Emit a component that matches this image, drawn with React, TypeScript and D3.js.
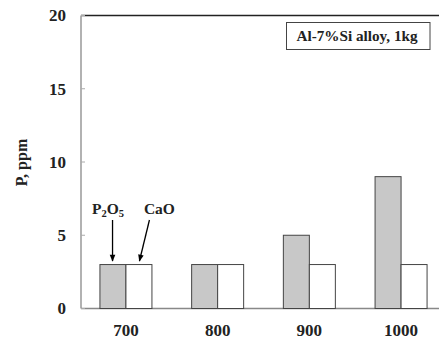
import React from "react";
import * as d3 from "d3";

const categories = ["700", "800", "900", "1000"];
const p2o5Values = [3, 3, 5, 9];
const caoValues = [3, 3, 3, 3];
const yTicks = [0, 5, 10, 15, 20];
const legendText = "Al-7%Si alloy, 1kg";
const yLabel = "P, ppm";

export default function App() {
  const W = 439, H = 340;
  const left = 81, top = 15.5, bottom = 308.5, right = 446;
  const x = d3.scaleBand<string>().domain(categories).range([left, right]).paddingInner(0.43).paddingOuter(0.205);
  const y = d3.scaleLinear().domain([0, 20]).range([bottom, top]);
  const bw = 26;
  const font = "'Liberation Serif', 'Times New Roman', serif";
  const center = (c: string) => (x(c) as number) + x.bandwidth() / 2;
  const c0 = center(categories[0]);
  return (
    <svg width={W} height={H} style={{ position: "absolute", left: 0, top: 0 }} fontFamily={font}>
      <defs>
        <marker id="ah" viewBox="0 0 10 10" refX="9" refY="5" markerWidth="10" markerHeight="7" orient="auto" markerUnits="userSpaceOnUse">
          <path d="M0,1 L10,5 L0,9 Z" fill="#000" />
        </marker>
      </defs>
      <rect width={W} height={H} fill="#fff" />
      <line x1={left} x2={W} y1={y(20)} y2={y(20)} stroke="#222" strokeWidth={1.3} />
      <line x1={left} x2={left} y1={y(20)} y2={bottom} stroke="#999" strokeWidth={1.5} />
      <line x1={left} x2={W} y1={bottom} y2={bottom} stroke="#888" strokeWidth={1.5} />
      {yTicks.map((t) => (
        <g key={t}>
          <line x1={left} x2={left + 4} y1={y(t)} y2={y(t)} stroke="#aaa" strokeWidth={1} />
          <text x={66} y={y(t)} dy="0.35em" textAnchor="end" fontSize={17} fontWeight="bold" fill="#222">{t}</text>
        </g>
      ))}
      {categories.map((c, i) => {
        const cx = center(c);
        return (
          <g key={c}>
            <rect x={cx - bw} y={y(p2o5Values[i])} width={bw} height={bottom - y(p2o5Values[i])} fill="#c8c8c8" stroke="#444" strokeWidth={1} />
            <rect x={cx} y={y(caoValues[i])} width={bw} height={bottom - y(caoValues[i])} fill="#fff" stroke="#444" strokeWidth={1} />
            <text x={cx} y={336} textAnchor="middle" fontSize={17} fontWeight="bold" fill="#222">{c}</text>
          </g>
        );
      })}
      <text transform={`translate(27,162.5) rotate(-90)`} textAnchor="middle" fontSize={16} fontWeight="bold" fill="#222">{yLabel}</text>
      <rect x={286.5} y={22.5} width={143.5} height={27} fill="#fff" stroke="#444" strokeWidth={1} />
      <text x={357} y={36} dy="0.35em" textAnchor="middle" fontSize={15.2} fontWeight="bold" fill="#222">{legendText}</text>
      <text x={c0 - 18} y={214} textAnchor="middle" fontSize={15.5} fontWeight="bold" fill="#222">
        P<tspan fontSize={10.5} dy={3}>2</tspan><tspan dy={-3}>O</tspan><tspan fontSize={10.5} dy={3}>5</tspan>
      </text>
      <text x={c0 + 33.5} y={214} textAnchor="middle" fontSize={15.5} fontWeight="bold" fill="#222">CaO</text>
      <line x1={c0 - 13.4} y1={220} x2={c0 - 13.4} y2={261} stroke="#000" strokeWidth={1.3} markerEnd="url(#ah)" />
      <line x1={c0 + 23.5} y1={220} x2={c0 + 13.5} y2={261} stroke="#000" strokeWidth={1.3} markerEnd="url(#ah)" />
    </svg>
  );
}
